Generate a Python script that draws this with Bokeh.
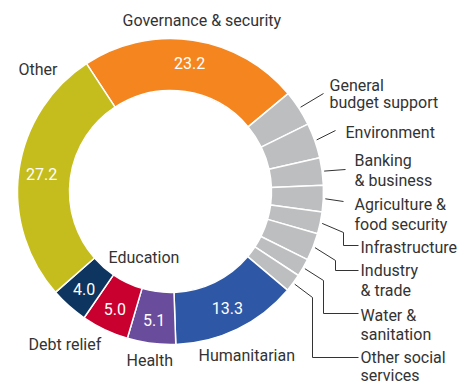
import math
from bokeh.plotting import figure
from bokeh.models import Range1d, ColumnDataSource
from bokeh.core.properties import value
from bokeh.embed import file_html
from bokeh.resources import INLINE

# ---- data ----
categories = ["Governance & security", "General budget support", "Environment",
              "Banking & business", "Agriculture & food security", "Infrastructure",
              "Industry & trade", "Water & sanitation", "Other social services",
              "Humanitarian", "Health", "Debt relief", "Education", "Other"]
values = [23.2, 3.8, 3.7, 2.9, 2.8, 2.3, 2.9, 1.9, 1.9, 13.3, 5.1, 5.0, 4.0, 27.2]
colors = ["#F5861F", "#BDBEC0", "#BDBEC0", "#BDBEC0", "#BDBEC0", "#BDBEC0",
          "#BDBEC0", "#BDBEC0", "#BDBEC0", "#2E58A6", "#6A4C9C", "#C9002F",
          "#0D3560", "#C5BD1E"]
show_value = [True, False, False, False, False, False, False, False, False,
              True, True, True, True, True]

# ---- layout (screen pixel coordinates) ----
W, H = 470, 383
CX, CY = 170, 191
R_IN, R_OUT = 101, 153
START_DEG = -33.3  # clockwise from top
FONT = "Roboto"
TXT = "#333333"


def Y(sy):
    return H - sy


p = figure(width=W, height=H, x_range=Range1d(0, W), y_range=Range1d(0, H),
           output_backend="svg", toolbar_location=None,
           x_axis_location=None, y_axis_location=None, min_border=0)
p.grid.visible = False
p.outline_line_color = None
p.background_fill_color = "white"

total = sum(values)
starts, ends, mids = [], [], []
acc = START_DEG
for v in values:
    a0 = acc
    a1 = acc + v / total * 360.0
    starts.append(math.radians(90 - a0))
    ends.append(math.radians(90 - a1))
    mids.append((a0 + a1) / 2)
    acc = a1

src = ColumnDataSource(dict(x=[CX] * len(values), y=[Y(CY)] * len(values),
                            s=starts, e=ends, c=colors))
p.annular_wedge(x="x", y="y", inner_radius=R_IN, outer_radius=R_OUT,
                start_angle="s", end_angle="e", direction="clock",
                fill_color="c", line_color="white", line_width=1.5, source=src)

# value labels
vx, vy, vt = [], [], []
for v, m, sh in zip(values, mids, show_value):
    if sh:
        r = 130
        vx.append(CX + r * math.sin(math.radians(m)))
        vy.append(Y(CY + r * -math.cos(math.radians(m))))
        vt.append(f"{v:.1f}")
p.text(x=vx, y=vy, text=vt, text_color="white", text_font=value(FONT),
       text_font_size="16px", text_align="center", text_baseline="middle")

# category labels
label_lines = {
    0: ["Governance & security"],
    1: ["General", "budget support"],
    2: ["Environment"],
    3: ["Banking", "& business"],
    4: ["Agriculture &", "food security"],
    5: ["Infrastructure"],
    6: ["Industry", "& trade"],
    7: ["Water &", "sanitation"],
    8: ["Other social", "services"],
    9: ["Humanitarian"],
    10: ["Health"],
    11: ["Debt relief"],
    12: ["Education"],
    13: ["Other"],
}
label_pos = {
    0: (122, 20, 0), 1: (329, 85, 17), 2: (345, 131.5, 0), 3: (354, 160, 20),
    4: (354, 204, 20), 5: (360, 246.5, 0), 6: (360, 269.5, 20), 7: (360, 314.5, 19),
    8: (360, 356.5, 18), 9: (198, 355, 0), 10: (126, 360, 0), 11: (28, 343.5, 0),
    12: (108, 256.5, 0), 13: (18, 68.5, 0),
}
tx, ty, tt = [], [], []
for i, lines in label_lines.items():
    x0, y0, dy = label_pos[i]
    for k, line in enumerate(lines):
        tx.append(x0)
        ty.append(Y(y0 + k * dy))
        tt.append(line)
p.text(x=tx, y=ty, text=tt, text_color=TXT, text_font=value(FONT),
       text_font_size="16px", text_align="left", text_baseline="middle")

# leader lines for the grey slices
elbows = {
    1: [(323, 93)],
    2: [(335, 130)],
    3: [(345, 169)],
    4: [(343, 201)],
    5: [(343, 232), (343, 245), (358, 245)],
    6: [(335, 260), (335, 270), (358, 270)],
    7: [(323, 280), (323, 313), (358, 313)],
    8: [(312, 297), (312, 357), (358, 357)],
}
xs, ys = [], []
for i, pts in elbows.items():
    m = math.radians(mids[i])
    r = 155
    sx0 = CX + r * math.sin(m)
    sy0 = CY - r * math.cos(m)
    xs.append([sx0] + [q[0] for q in pts])
    ys.append([Y(sy0)] + [Y(q[1]) for q in pts])
p.multi_line(xs=xs, ys=ys, line_color=TXT, line_width=1)

open("out.html", "w").write(file_html(p, INLINE))
